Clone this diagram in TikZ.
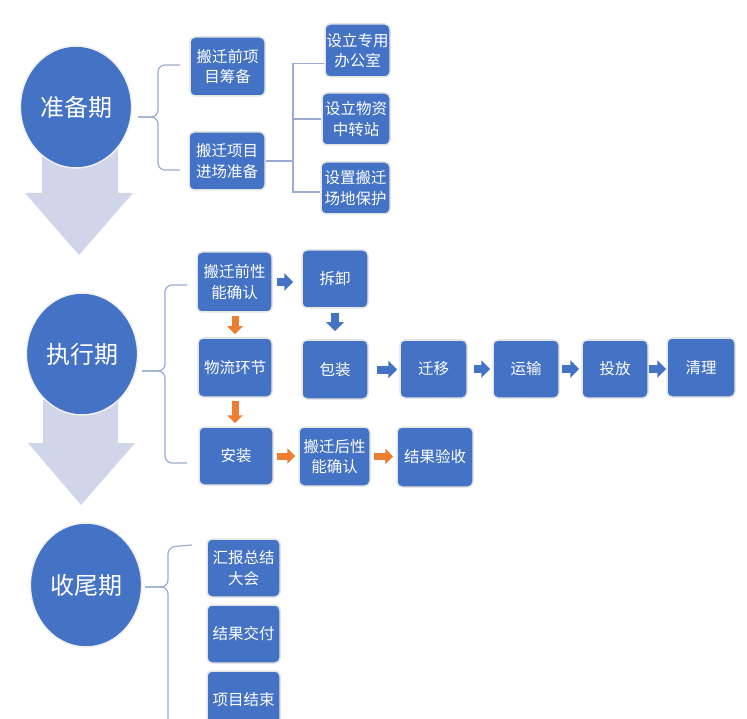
\documentclass[tikz,border=0pt]{standalone}
\usepackage{fontspec}
\newfontfamily\cjk{Noto Sans CJK SC}
\usetikzlibrary{shapes.geometric,arrows.meta}

\definecolor{boxblue}{HTML}{4472C4}
\definecolor{pale}{HTML}{D0D5EA}
\definecolor{linegray}{HTML}{9AACCF}
\definecolor{orangeA}{HTML}{ED7D31}

\begin{document}
\begin{tikzpicture}[x=1pt,y=-1pt,
	phase/.style={ellipse,fill=boxblue,draw=gray!12,line width=1.5pt,minimum width=108pt,minimum height=122pt,text=white,font=\cjk\fontsize{24}{28}\selectfont},
	task/.style={rectangle,rounded corners=5pt,fill=boxblue,draw=gray!20,line width=1.5pt,minimum width=74pt,minimum height=58pt,inner sep=0pt,text=white,align=center,font=\cjk\fontsize{15.5}{20.5}\selectfont},
	brace/.style={draw=linegray,line width=1.2pt,rounded corners=7pt},
	bluego/.style={draw=boxblue,line width=8pt,-{Triangle[length=9pt,width=17pt]},shorten <=2pt,shorten >=2pt},
	orangego/.style={draw=orangeA,line width=7pt,-{Triangle[length=8pt,width=15pt]},shorten <=3pt,shorten >=3pt}]
	\useasboundingbox (0,0) rectangle (747,719);
	
	% big arrows
	\fill[pale] (42,150) -- (118,150) -- (118,193) -- (133,193) -- (79,255) -- (25,193) -- (42,193) -- cycle;
	\fill[pale] (43,400) -- (118,400) -- (118,443) -- (135,443) -- (81,505) -- (28,443) -- (43,443) -- cycle;
	
	% phases
	\node[phase] (prep) at (76,107) {准备期};
	\node[phase,minimum width=110pt] (exec) at (82,354) {执行期};
	\node[phase,minimum height=124pt] (close) at (86,585) {收尾期};
	
	% preparation
	\node[task,minimum width=75pt,minimum height=59pt] (pre1) at (227.5,66.5) {搬迁前项\\目筹备};
	\node[task,minimum width=76pt] (pre2) at (227,161) {搬迁项目\\进场准备};
	\node[task,minimum width=65pt,minimum height=53pt] (site1) at (357.5,50.5) {设立专用\\办公室};
	\node[task,minimum width=68pt,minimum height=52pt] (site2) at (356,119) {设立物资\\中转站};
	\node[task,minimum width=69pt,minimum height=52pt] (site3) at (355.5,188) {设置搬迁\\场地保护};
	
	\coordinate (tip1) at (138,117);
	\coordinate (arm1a) at (180,65);
	\coordinate (arm1b) at (180,170);
	\draw[brace] (arm1a) -- (158,65) -- (158,117) -- (tip1);
	\draw[brace] (tip1) -- (158,117) -- (158,170) -- (arm1b);
	
	\coordinate (trunk) at (293,161);
	\draw[draw=linegray,line width=1.2pt] (pre2.east) -- (trunk);
	\draw[draw=linegray,line width=1.2pt] ([yshift=-13pt]site1.west) -| (trunk) |- ([yshift=-4pt]site3.west);
	\draw[draw=linegray,line width=1.2pt] (site2.west) -- (site2.west -| trunk);
	
	% execution
	\node[task,minimum width=75pt,minimum height=60pt] (chk1) at (234.5,282) {搬迁前性\\能确认};
	\node[task,minimum width=66pt] (dis) at (335,279) {拆卸};
	\node[task,minimum height=59pt] (flow) at (235,367.5) {物流环节};
	\node[task,minimum width=66pt,minimum height=59pt] (pack) at (335,369.5) {包装};
	\node[task,minimum width=67pt] (move) at (433.5,369) {迁移};
	\node[task,minimum width=66pt] (trans) at (526,369) {运输};
	\node[task,minimum width=66pt] (put) at (615,369) {投放};
	\node[task,minimum width=68pt,minimum height=59pt] (clean) at (701,367.5) {清理};
	\node[task] (inst) at (236,456) {安装};
	\node[task,minimum width=71pt,minimum height=59pt] (chk2) at (334.5,456.5) {搬迁后性\\能确认};
	\node[task,minimum width=76pt,minimum height=60pt] (acc) at (435,457) {结果验收};
	
	\coordinate (tip2) at (142,371);
	\coordinate (arm2a) at (187,285);
	\coordinate (arm2b) at (187,463);
	\draw[brace] (arm2a) -- (165,285) -- (165,371) -- (tip2);
	\draw[brace] (tip2) -- (165,371) -- (165,463) -- (arm2b);
	
	\draw[bluego,shorten <=4pt,shorten >=8pt] (chk1.east) -- (chk1.east -| dis.west);
	\draw[bluego,shorten <=4pt,shorten >=8pt] (dis.south) -- (dis.south |- pack.north);
	\draw[bluego,shorten <=8pt] (pack.east) -- (pack.east -| move.west);
	\draw[bluego,shorten <=6pt] (move.east) -- (move.east -| trans.west);
	\draw[bluego] (trans.east) -- (trans.east -| put.west);
	\draw[bluego,shorten <=0.5pt,shorten >=0pt] (put.east) -- (put.east -| clean.west);
	\draw[orangego] (chk1.south -| flow.north) -- (flow.north);
	\draw[orangego] (flow.south) -- (flow.south |- inst.north);
	\draw[orangego] (inst.east) -- (inst.east -| chk2.west);
	\draw[orangego] (chk2.east) -- (chk2.east -| acc.west);
	
	% closing
	\node[task,minimum width=73pt] (sum) at (243.5,568) {汇报总结\\大会};
	\node[task,minimum width=73pt] (deliv) at (243.5,634) {结果交付};
	\node[task,minimum width=73pt] (finish) at (243.5,700) {项目结束};
	
	\coordinate (tip3) at (145,587);
	\coordinate (arm3a) at (192,545);
	\coordinate (arm3b) at (168,740);
	\draw[brace] (arm3a) -- (168,547) -- (168,587) -- (tip3);
	\draw[brace] (tip3) -- (168,587) -- (arm3b);
\end{tikzpicture}
\end{document}
